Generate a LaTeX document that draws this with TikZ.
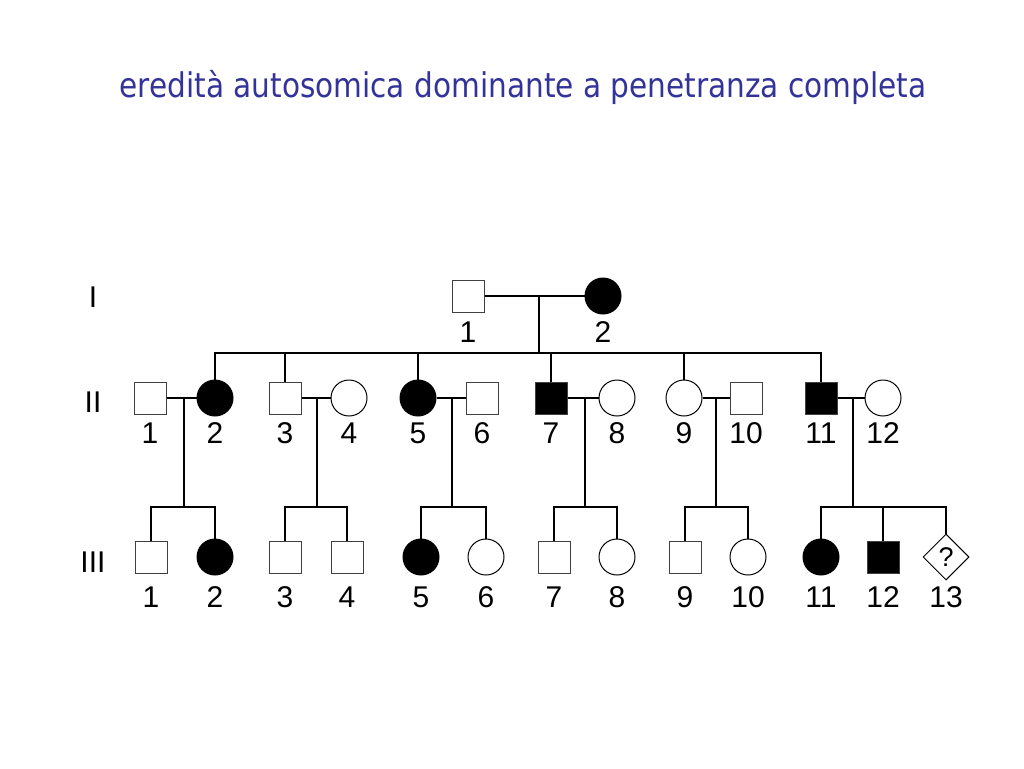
\documentclass[tikz,border=0pt]{standalone}
\usepackage{fontspec}
\setmainfont{Liberation Sans}
\newfontfamily\titlefont{DejaVu Sans}
\usetikzlibrary{shapes.geometric}
\definecolor{titleblue}{HTML}{333399}

\begin{document}
\begin{tikzpicture}[x=1pt, y=-1pt,
		male/.style={draw=black!75, line width=1pt, minimum size=32pt, inner sep=0pt},
		female/.style={circle, draw, line width=1pt, minimum size=36pt, inner sep=0pt},
		unknown/.style={diamond, draw, line width=1pt, minimum size=46pt, inner sep=0pt, font=\fontsize{27}{30}\selectfont},
		aff/.style={fill=black},
		num/.style={anchor=base, inner sep=0pt, font=\fontsize{30}{33}\selectfont},
		line/.style={line width=2pt}]
		\useasboundingbox (0,0) rectangle (1024,768);
		\node[anchor=base, text=titleblue, font=\titlefont\fontsize{34}{40}\selectfont] (title) at (523,97)
			{\scalebox{0.87}[1]{eredità autosomica dominante a penetranza completa}};

		% generazioni
		\node[num] (gI) at (93,307) {I};
		\node[num] (gII) at (93,412) {II};
		\node[num] (gIII) at (93,572) {III};

		% I
		\node[male] (I1) at (468,296) {};
		\node[female, aff] (I2) at (603,296) {};
		\node[num] (lI1) at (468,342) {1};
		\node[num] (lI2) at (603,342) {2};

		% II
		\node[male] (II1) at (150,398) {};
		\node[female, aff] (II2) at (215,398) {};
		\node[male] (II3) at (285,398) {};
		\node[female] (II4) at (349,398) {};
		\node[female, aff] (II5) at (418,398) {};
		\node[male] (II6) at (482,398) {};
		\node[male, aff] (II7) at (551,398) {};
		\node[female] (II8) at (617,398) {};
		\node[female] (II9) at (684,398) {};
		\node[male] (II10) at (746,398) {};
		\node[male, aff] (II11) at (821,398) {};
		\node[female] (II12) at (883,398) {};
		\foreach \n/\x in {1/150, 2/215, 3/285, 4/349, 5/418, 6/482, 7/551, 8/617, 9/684, 10/746, 11/821, 12/883}
			\node[num] (lII\n) at (\x,443) {\n};

		% III
		\node[male] (III1) at (151,557) {};
		\node[female, aff] (III2) at (215,557) {};
		\node[male] (III3) at (285,557) {};
		\node[male] (III4) at (347,557) {};
		\node[female, aff] (III5) at (421,557) {};
		\node[female] (III6) at (486,557) {};
		\node[male] (III7) at (554,557) {};
		\node[female] (III8) at (617,557) {};
		\node[male] (III9) at (685,557) {};
		\node[female] (III10) at (748,557) {};
		\node[female, aff] (III11) at (821,557) {};
		\node[male, aff] (III12) at (883,557) {};
		\node[unknown] (III13) at (946,557) {?};
		\foreach \n/\x in {1/151, 2/215, 3/285, 4/347, 5/421, 6/486, 7/554, 8/617, 9/685, 10/748, 11/821, 12/883, 13/946}
			\node[num] (lIII\n) at (\x,607) {\n};

		% punti di unione
		\coordinate (mI) at (539,296);
		\coordinate (sI) at (539,353);
		\foreach \n/\x in {1/184, 2/317, 3/452, 4/585, 5/716, 6/853} {
			\coordinate (m\n) at (\x,398);
			\coordinate (s\n) at (\x,507);
		}

		\path[line]
			(I1) edge (I2) % I-1 x I-2
			(mI) edge (sI)
			(II1) edge (II2) % II-1 x II-2
			(II3) edge (II4) % II-3 x II-4
			(II5) edge (II6) % II-5 x II-6
			(II7) edge (II8) % II-7 x II-8
			(II9) edge (II10) % II-9 x II-10
			(II11) edge (II12) % II-11 x II-12
			(m1) edge (s1)
			(m2) edge (s2)
			(m3) edge (s3)
			(m4) edge (s4)
			(m5) edge (s5)
			(m6) edge (s6)
			;
		\draw[line] (sI) -| (II2) (sI) -| (II3) (sI) -| (II5)
			(sI) -| (II7) (sI) -| (II9) (sI) -| (II11);
		\draw[line] (s1) -| (III1) (s1) -| (III2)
			(s2) -| (III3) (s2) -| (III4)
			(s3) -| (III5) (s3) -| (III6)
			(s4) -| (III7) (s4) -| (III8)
			(s5) -| (III9) (s5) -| (III10)
			(s6) -| (III11) (s6) -| (III12) (s6) -| (III13);
\end{tikzpicture}
\end{document}
